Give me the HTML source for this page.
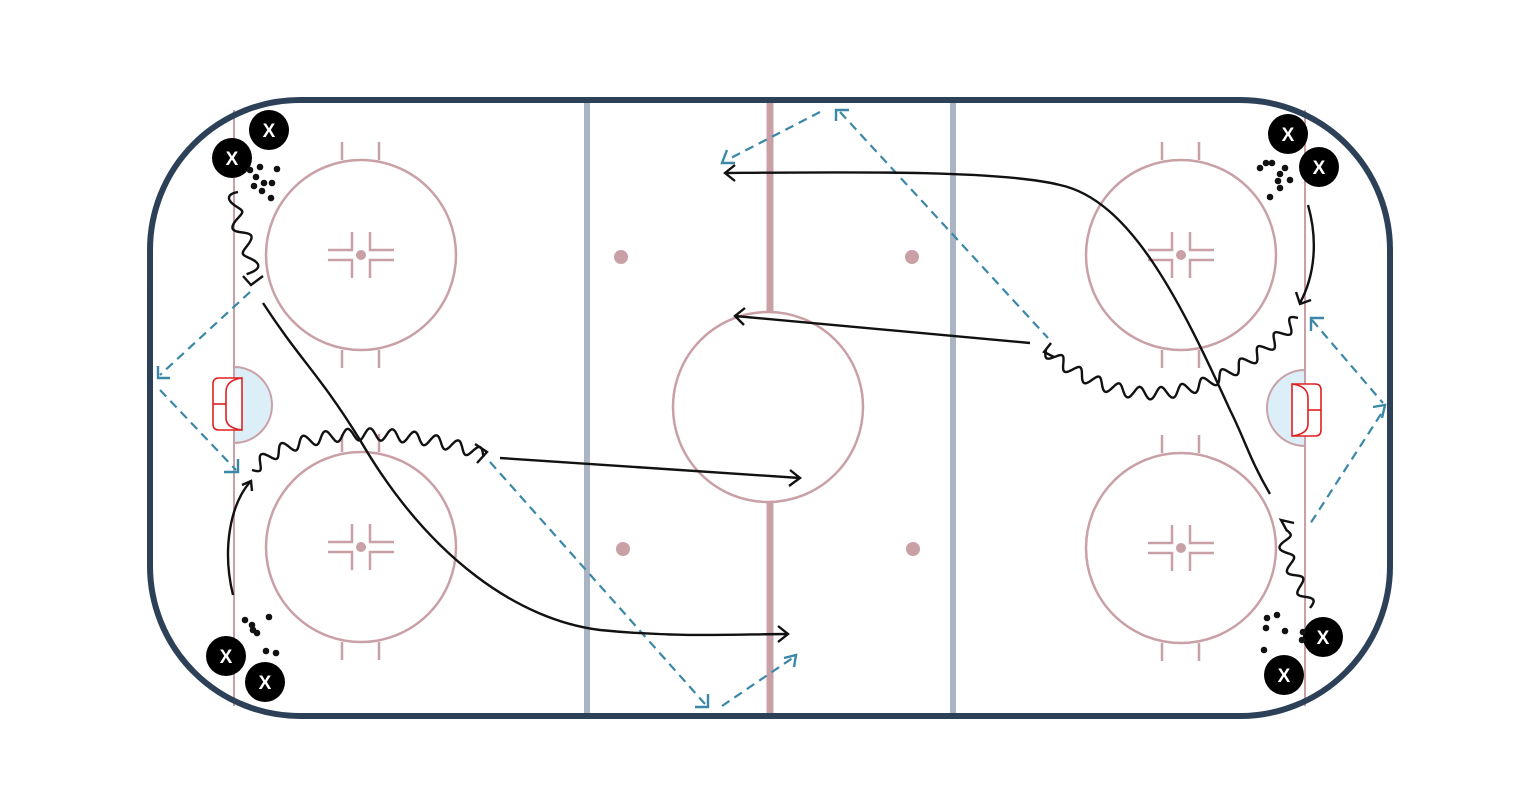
<!DOCTYPE html>
<html><head><meta charset="utf-8"><style>html,body{margin:0;padding:0;background:#fff}svg{display:block}</style></head>
<body>
<svg id="s" width="1526" height="812" viewBox="0 0 1526 812" xmlns="http://www.w3.org/2000/svg">
<rect width="1526" height="812" fill="#fff"/>
<g stroke="#c9a0a6" fill="none" stroke-width="2.5">
<line x1="234" y1="110" x2="234" y2="706" stroke-width="2"/>
<line x1="1305" y1="110" x2="1305" y2="706" stroke-width="2"/>
</g>
<path d="M234,367 A38,38 0 0 1 234,443 Z" fill="#dceff8" stroke="#c9a0a6" stroke-width="2"/>
<path d="M1305,370 A38,38 0 0 0 1305,446 Z" fill="#dceff8" stroke="#c9a0a6" stroke-width="2"/>
<line x1="587" y1="102" x2="587" y2="714" stroke="#aab4c2" stroke-width="6"/>
<line x1="953" y1="102" x2="953" y2="714" stroke="#aab4c2" stroke-width="6"/>
<line x1="770" y1="102" x2="770" y2="312" stroke="#c9a0a6" stroke-width="7"/>
<line x1="770" y1="502" x2="770" y2="714" stroke="#c9a0a6" stroke-width="7"/>
<circle cx="768" cy="407" r="95" fill="none" stroke="#c9a0a6" stroke-width="2.5"/>
<g fill="#c9a0a6"><circle cx="621" cy="257" r="7"/><circle cx="623" cy="549" r="7"/><circle cx="912" cy="257" r="7"/><circle cx="913" cy="549" r="7"/></g>
<g id="fo" stroke="#c9a0a6" fill="none" stroke-width="2.5"></g>
<g stroke="#e02020" fill="#fff" stroke-width="1.6">
<path d="M242,378 H219 Q213,378 213,384 V424 Q213,430 219,430 H242 Z"/>
<path d="M242,378 Q226,380 226,392 V418 Q226,428 242,430" fill="none"/>
<line x1="213" y1="404" x2="226" y2="404"/>
<path d="M1292,384 H1315 Q1321,384 1321,390 V430 Q1321,436 1315,436 H1292 Z"/>
<path d="M1292,384 Q1308,386 1308,398 V424 Q1308,434 1292,436" fill="none"/>
<line x1="1308" y1="410" x2="1321" y2="410"/>
</g>
<rect x="150" y="100" width="1240" height="616" rx="150" ry="150" fill="none" stroke="#2c4158" stroke-width="6"/>
<g stroke="#3a87a8" stroke-width="2.2" fill="none" stroke-dasharray="9,6">
<path d="M250,292 L160,375"/><path d="M160,390 L236,470"/>
<path d="M490,462 L705,704"/><path d="M722,706 L794,657"/>
<path d="M820,112 L727,160"/><path d="M840,112 L1048,338"/>
<path d="M1312,320 L1383,403"/><path d="M1381,414 L1310,524"/>
</g>
<g stroke="#3a87a8" stroke-width="2.4" fill="none">
<path d="M158,366 V378 H170"/><path d="M224,472 H238 V459"/>
<path d="M695,707 H708 V694"/><path d="M784,658 L796,655 L794,667"/>
<path d="M727,150 L722,163 L735,163"/><path d="M836,121 V110 H849"/>
<path d="M1311,331 V318 H1324"/><path d="M1373,407 L1385,405 L1382,418"/>
</g>
<g id="blk" stroke="#111" stroke-width="2.4" fill="none">
<path d="M263,303 C300,360 320,375 360,440 C430,560 520,620 600,630 C680,638 740,634 788,634"/>
<path d="M778,626 L788,634 L778,642"/>
<path d="M500,458 L800,478"/><path d="M790,470 L800,478 L789,486"/>
<path d="M233,595 C222,550 230,505 250,482"/><path d="M242,485 L251,481 L252,491"/>
<path d="M1270,494 C1250,460 1245,440 1230,410 C1180,300 1130,200 1060,185 C1000,170 850,172 725,173"/>
<path d="M735,165 L725,173 L735,181"/>
<path d="M1030,343 L735,316"/><path d="M745,308 L735,316 L744,325"/>
<path d="M1308,205 C1318,240 1315,275 1300,303"/><path d="M1296,292 L1300,304 L1311,300"/>
<path d="M243,276 L251,285 L263,276"/>
<path d="M475,444 L487,452 L477,463"/>
<path d="M1051,343 L1044,352 L1054,357"/>
<path d="M1287,531 L1281,520 L1294,523"/>
</g>
<g id="pl"></g>
<g fill="#111" id="pk"></g>
<script>
(function(){
var ns="http://www.w3.org/2000/svg",s=document.getElementById('s');
function el(t,a,p){var e=document.createElementNS(ns,t);for(var k in a)e.setAttribute(k,a[k]);(p||s).appendChild(e);return e;}
var fo=document.getElementById('fo');
[[361,255],[361,547],[1181,255],[1181,548]].forEach(function(c){
 var x=c[0],y=c[1];
 el('circle',{cx:x,cy:y,r:95},fo);
 var d='';
 [-19,18].forEach(function(dx){d+='M'+(x+dx)+','+(y-95)+'v-18M'+(x+dx)+','+(y+95)+'v18';});
 d+='M'+(x-33)+','+(y-5)+'h24v-18M'+(x+33)+','+(y-5)+'h-24v-18M'+(x-33)+','+(y+5)+'h24v18M'+(x+33)+','+(y+5)+'h-24v18';
 el('path',{d:d},fo);
 el('circle',{cx:x,cy:y,r:5,fill:'#c9a0a6',stroke:'none'},fo);
});
function bez(p,t){var u=1-t;return [u*u*u*p[0]+3*u*u*t*p[2]+3*u*t*t*p[4]+t*t*t*p[6],u*u*u*p[1]+3*u*u*t*p[3]+3*u*t*t*p[5]+t*t*t*p[7]];}
function sq(p,A,L){
 var N=500,pts=[],len=0,prev=bez(p,0);
 for(var i=0;i<=N;i++){var q=bez(p,i/N);if(i)len+=Math.hypot(q[0]-prev[0],q[1]-prev[1]);pts.push([q,len]);prev=q;}
 var d='';
 for(var i=0;i<=N;i++){var a=pts[Math.max(0,i-1)][0],b=pts[Math.min(N,i+1)][0];var dx=b[0]-a[0],dy=b[1]-a[1],m=Math.hypot(dx,dy)||1;
  var o=A*Math.sin(2*Math.PI*pts[i][1]/L);var x=pts[i][0][0]-dy/m*o,y=pts[i][0][1]+dx/m*o;d+=(i?'L':'M')+x.toFixed(1)+','+y.toFixed(1);}
 el('path',{d:d,stroke:'#111','stroke-width':2.4,fill:'none'});
}
sq([238,192,225,225,258,240,250,275],7,28);
sq([252,470,300,420,420,430,484,455],6,22);
sq([1298,318,1250,370,1150,440,1046,350],6,22);
sq([1310,608,1300,580,1282,560,1285,530],6,24);
var pl=document.getElementById('pl');
[[269,130],[232,158],[1288,134],[1319,167],[226,656],[265,682],[1323,637],[1284,675]].forEach(function(c){
 el('circle',{cx:c[0],cy:c[1],r:20,fill:'#000'},pl);
 var t=el('text',{x:c[0],y:c[1]+7,'text-anchor':'middle',fill:'#fff','font-family':'Liberation Sans, sans-serif','font-weight':'bold','font-size':'19'},pl);t.textContent='X';
});
var pk=document.getElementById('pk');
[[250,170],[260,167],[277,169],[256,177],[264,183],[272,183],[262,191],[271,198],[254,186],
 [1260,168],[1266,163],[1272,163],[1280,174],[1290,180],[1278,181],[1280,188],[1270,197],[1285,168],
 [245,620],[252,625],[257,633],[269,617],[266,651],[276,653],[253,630],
 [1267,618],[1277,615],[1266,628],[1285,631],[1264,650],[1303,632],[1302,640]].forEach(function(c){
 el('circle',{cx:c[0],cy:c[1],r:3.3},pk);});
})();
</script>
</svg>
</body></html>
